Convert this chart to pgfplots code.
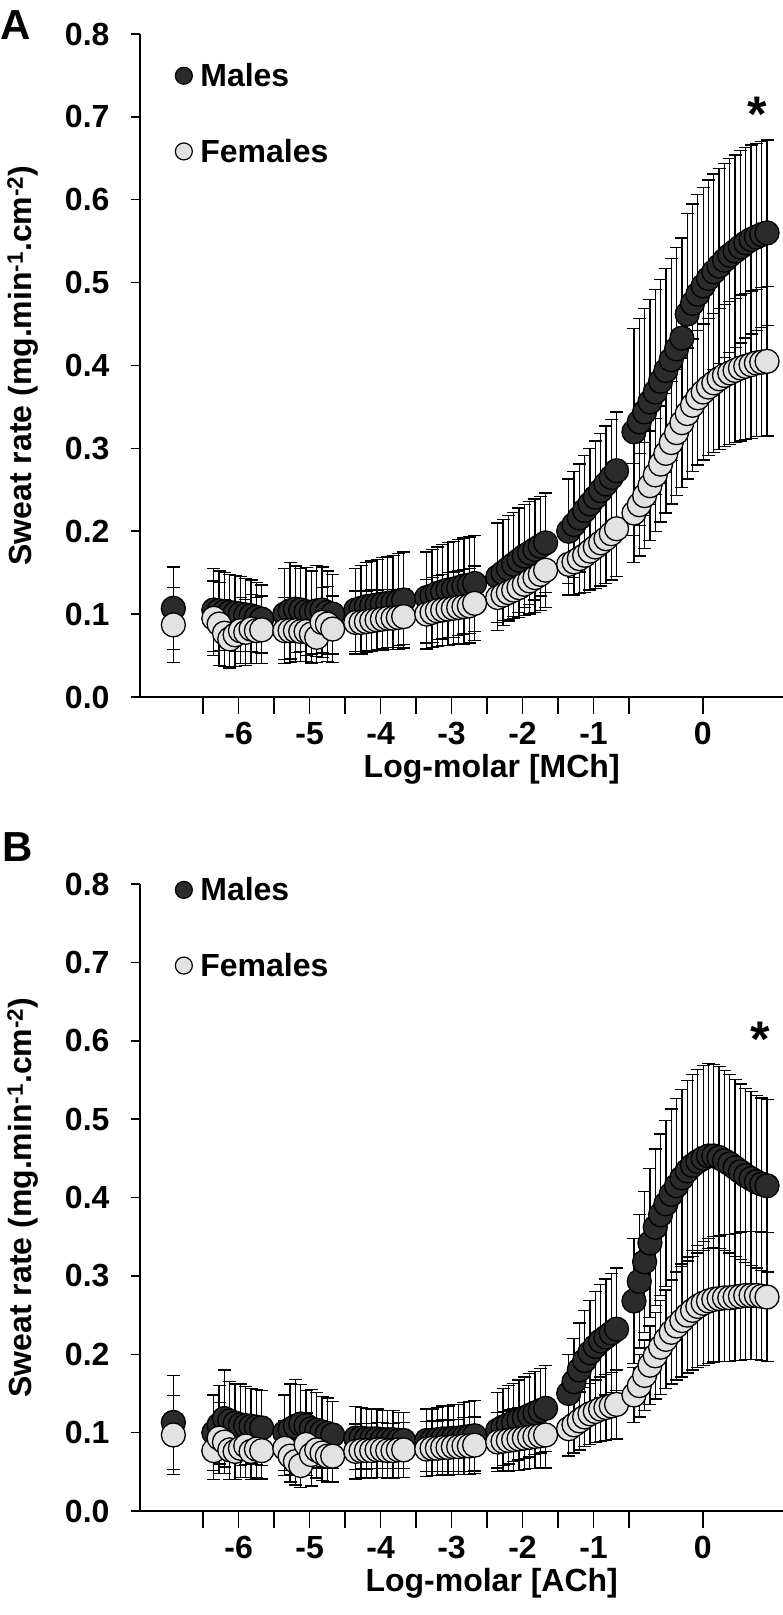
\documentclass[border=0pt]{standalone}
\usepackage{fontspec}
\setmainfont{Liberation Sans}
\usepackage{pgfplots}
\usepackage{pgfplotstable}
\pgfplotsset{compat=1.18}

\definecolor{maleC}{HTML}{2B2B2B}
\definecolor{femaleC}{HTML}{E2E2E2}
\newcommand\lbl{\bfseries\fontsize{32}{36}\selectfont}

% panel A: methacholine
\pgfplotstableread{
x      m     ms    f     fs
-6.92  0.107 0.050 0.087 0.045
-6.35  0.105 0.050 0.095 0.045
-6.275 0.104 0.048 0.088 0.050
-6.2   0.103 0.047 0.077 0.040
-6.125 0.102 0.046 0.070 0.035
-6.05  0.101 0.046 0.075 0.038
-5.975 0.100 0.045 0.080 0.040
-5.9   0.099 0.044 0.078 0.040
-5.825 0.098 0.043 0.082 0.042
-5.75  0.096 0.042 0.080 0.040
-5.675 0.094 0.041 0.081 0.041
-5.35  0.100 0.055 0.080 0.040
-5.275 0.104 0.058 0.080 0.038
-5.2   0.106 0.052 0.080 0.037
-5.125 0.105 0.050 0.079 0.036
-5.05  0.103 0.053 0.079 0.036
-4.975 0.102 0.050 0.076 0.035
-4.9   0.104 0.055 0.072 0.030
-4.825 0.105 0.052 0.090 0.042
-4.75  0.102 0.050 0.088 0.045
-4.675 0.100 0.048 0.082 0.040
-4.35  0.105 0.050 0.090 0.038
-4.275 0.107 0.052 0.090 0.038
-4.2   0.109 0.053 0.091 0.037
-4.125 0.110 0.054 0.092 0.037
-4.05  0.111 0.055 0.093 0.036
-3.975 0.112 0.056 0.094 0.036
-3.9   0.113 0.056 0.095 0.035
-3.825 0.114 0.057 0.095 0.035
-3.75  0.115 0.058 0.096 0.034
-3.675 0.117 0.058 0.097 0.034
-3.35  0.120 0.055 0.100 0.042
-3.275 0.122 0.056 0.102 0.042
-3.2   0.125 0.056 0.104 0.043
-3.125 0.127 0.057 0.105 0.043
-3.05  0.129 0.057 0.106 0.044
-2.975 0.130 0.058 0.107 0.044
-2.9   0.132 0.058 0.108 0.044
-2.825 0.134 0.058 0.109 0.045
-2.75  0.135 0.058 0.110 0.045
-2.675 0.137 0.058 0.113 0.045
-2.35  0.145 0.065 0.120 0.030
-2.275 0.150 0.064 0.123 0.031
-2.2   0.155 0.064 0.126 0.033
-2.125 0.160 0.063 0.129 0.034
-2.05  0.165 0.063 0.132 0.036
-1.975 0.170 0.062 0.136 0.038
-1.9   0.174 0.062 0.140 0.040
-1.825 0.178 0.061 0.144 0.042
-1.75  0.182 0.060 0.148 0.044
-1.675 0.186 0.060 0.153 0.045
-1.35  0.200 0.063 0.160 0.037
-1.275 0.208 0.064 0.163 0.040
-1.2   0.216 0.065 0.167 0.042
-1.125 0.225 0.066 0.171 0.045
-1.05  0.233 0.067 0.176 0.047
-0.975 0.241 0.068 0.181 0.050
-0.9   0.249 0.069 0.186 0.052
-0.825 0.257 0.070 0.191 0.054
-0.75  0.265 0.070 0.197 0.056
-0.675 0.273 0.071 0.203 0.058
-0.43  0.320 0.125 0.222 0.060
-0.355 0.332 0.125 0.232 0.062
-0.28  0.344 0.125 0.243 0.064
-0.205 0.356 0.124 0.255 0.066
-0.13  0.368 0.124 0.268 0.068
-0.055 0.381 0.123 0.281 0.070
0.02   0.394 0.123 0.294 0.072
0.095  0.407 0.122 0.307 0.074
0.17   0.420 0.122 0.319 0.076
0.245  0.433 0.121 0.331 0.078
0.32   0.462 0.121 0.342 0.079
0.395  0.475 0.120 0.352 0.080
0.47   0.486 0.120 0.361 0.081
0.545  0.496 0.119 0.368 0.082
0.62   0.505 0.119 0.374 0.083
0.695  0.513 0.118 0.379 0.084
0.77   0.520 0.118 0.384 0.085
0.845  0.527 0.117 0.388 0.086
0.92   0.533 0.117 0.391 0.086
0.995  0.538 0.116 0.394 0.087
1.07   0.543 0.116 0.397 0.088
1.145  0.548 0.115 0.399 0.088
1.22   0.552 0.114 0.401 0.089
1.295  0.555 0.113 0.403 0.089
1.37   0.558 0.112 0.404 0.090
1.445  0.560 0.112 0.405 0.090
}\dataA

% panel B: acetylcholine
\pgfplotstableread{
x      m     ms    f     fs
-6.92  0.113 0.060 0.097 0.050
-6.35  0.100 0.048 0.077 0.037
-6.275 0.110 0.050 0.093 0.045
-6.2   0.118 0.062 0.088 0.040
-6.125 0.115 0.050 0.078 0.038
-6.05  0.112 0.050 0.076 0.036
-5.975 0.110 0.052 0.080 0.037
-5.9   0.109 0.050 0.083 0.040
-5.825 0.108 0.048 0.076 0.036
-5.75  0.107 0.048 0.079 0.037
-5.675 0.106 0.048 0.077 0.036
-5.35  0.100 0.048 0.080 0.035
-5.275 0.104 0.058 0.070 0.033
-5.2   0.108 0.060 0.063 0.030
-5.125 0.111 0.050 0.058 0.028
-5.05  0.109 0.045 0.085 0.040
-4.975 0.105 0.050 0.072 0.040
-4.9   0.103 0.048 0.078 0.036
-4.825 0.101 0.045 0.074 0.035
-4.75  0.099 0.045 0.070 0.033
-4.675 0.097 0.043 0.070 0.033
-4.35  0.093 0.040 0.076 0.035
-4.275 0.093 0.039 0.077 0.035
-4.2   0.092 0.039 0.077 0.035
-4.125 0.092 0.038 0.077 0.035
-4.05  0.092 0.038 0.078 0.035
-3.975 0.091 0.037 0.078 0.035
-3.9   0.091 0.037 0.077 0.035
-3.825 0.091 0.037 0.077 0.035
-3.75  0.090 0.036 0.078 0.035
-3.675 0.090 0.036 0.078 0.035
-3.35  0.090 0.040 0.079 0.035
-3.275 0.090 0.040 0.080 0.035
-3.2   0.091 0.041 0.080 0.035
-3.125 0.092 0.042 0.081 0.035
-3.05  0.092 0.042 0.081 0.035
-2.975 0.093 0.043 0.082 0.035
-2.9   0.093 0.043 0.082 0.035
-2.825 0.094 0.044 0.083 0.036
-2.75  0.095 0.045 0.083 0.036
-2.675 0.096 0.045 0.084 0.036
-2.35  0.103 0.048 0.088 0.038
-2.275 0.107 0.049 0.089 0.038
-2.2   0.110 0.050 0.090 0.039
-2.125 0.113 0.050 0.091 0.039
-2.05  0.116 0.051 0.092 0.040
-1.975 0.119 0.052 0.093 0.040
-1.9   0.122 0.053 0.094 0.040
-1.825 0.125 0.053 0.095 0.041
-1.75  0.128 0.054 0.096 0.041
-1.675 0.131 0.055 0.097 0.042
-1.35  0.150 0.050 0.105 0.035
-1.275 0.165 0.055 0.110 0.036
-1.2   0.180 0.060 0.115 0.037
-1.125 0.192 0.064 0.120 0.038
-1.05  0.202 0.067 0.124 0.039
-0.975 0.210 0.070 0.127 0.040
-0.9   0.217 0.072 0.130 0.041
-0.825 0.222 0.074 0.132 0.042
-0.75  0.227 0.076 0.134 0.043
-0.675 0.232 0.078 0.136 0.044
-0.43  0.268 0.080 0.148 0.035
-0.355 0.293 0.085 0.160 0.040
-0.28  0.318 0.090 0.173 0.045
-0.205 0.342 0.095 0.186 0.050
-0.13  0.362 0.100 0.198 0.055
-0.055 0.378 0.103 0.209 0.060
0.02   0.392 0.106 0.219 0.063
0.095  0.404 0.109 0.228 0.066
0.17   0.415 0.111 0.236 0.069
0.245  0.425 0.113 0.243 0.072
0.32   0.434 0.115 0.250 0.074
0.395  0.441 0.116 0.256 0.076
0.47   0.446 0.117 0.261 0.078
0.545  0.450 0.118 0.265 0.079
0.62   0.453 0.118 0.268 0.080
0.695  0.453 0.117 0.270 0.080
0.77   0.451 0.116 0.271 0.080
0.845  0.447 0.115 0.272 0.081
0.92   0.443 0.114 0.272 0.081
0.995  0.438 0.113 0.273 0.081
1.07   0.433 0.112 0.274 0.082
1.145  0.428 0.111 0.275 0.082
1.22   0.424 0.111 0.275 0.082
1.295  0.420 0.110 0.275 0.082
1.37   0.417 0.110 0.274 0.082
1.445  0.415 0.110 0.273 0.082
}\dataB

\pgfplotsset{
  sweat/.style={
    scale only axis, width=643pt,
    xmin=-7.39, xmax=1.67, ymin=0, ymax=0.8,
    clip=false,
    axis x line*=bottom, axis y line*=left,
    axis line style={line width=1.5pt},
    tick align=outside,
    major tick length=9pt,
    every tick/.style={black, line width=1.5pt},
    xtick={-6.5,-5.5,-4.5,-3.5,-2.5,-1.5,-0.5},
    xticklabels={},
    xtick style={/pgfplots/major tick length=17pt},
    extra x ticks={-6,-5,-4,-3,-2,-1,0.54},
    extra x tick labels={-6,-5,-4,-3,-2,-1,0},
    extra x tick style={/pgfplots/major tick length=0pt},
    xticklabel style={yshift=-22pt},
    ytick={0,0.1,0.2,0.3,0.4,0.5,0.6,0.7,0.8},
    yticklabel style={xshift=-18pt, /pgf/number format/.cd, fixed, fixed zerofill, precision=1},
    ticklabel style={font=\lbl},
    /pgf/number format/assume math mode=true,
    xlabel style={font=\lbl, at={(axis description cs:0.547,0)}, anchor=center, yshift=-72pt},
    legend style={draw=none, fill=none, font=\lbl, legend cell align=left,
      row sep=47pt, column sep=6pt, anchor=north west},
  },
  errs/.style={black, only marks, mark=none, forget plot,
    error bars/.cd, y dir=both, y explicit,
    error mark=-,
    error bar style={line width=1.3pt},
    error mark options={rotate=90, line width=1.3pt, mark size=6.5pt}},
  male/.style={only marks, mark=*, mark size=12pt, forget plot,
    mark options={fill=maleC, draw=black, line width=1.3pt}},
  female/.style={only marks, mark=*, mark size=12pt, forget plot,
    mark options={fill=femaleC, draw=black, line width=1.3pt}},
  keym/.style={only marks, mark=*, mark size=8.5pt,
    mark options={fill=maleC, draw=black, line width=1.2pt}},
  keyf/.style={only marks, mark=*, mark size=8.5pt,
    mark options={fill=femaleC, draw=black, line width=1.2pt}},
}

\begin{document}
\begin{tikzpicture}
\path[use as bounding box] (0,0) rectangle (783pt,1615pt);

\begin{axis}[sweat, height=663pt, at={(140pt,918pt)}, anchor=south west,
    xlabel={Log-molar [MCh]},
    legend style={at={(axis description cs:0.05,0.962)}}]
\addlegendimage{keym}\addlegendentry{Males}
\addlegendimage{keyf}\addlegendentry{Females}
\addplot[errs] table[x=x, y=m, y error=ms] {\dataA};
\addplot[errs] table[x=x, y=f, y error=fs] {\dataA};
\addplot[male] table[x=x, y=m] {\dataA};
\addplot[female] table[x=x, y=f] {\dataA};
\node[rotate=90, font=\lbl] at (axis description cs:-0.182,0.5)
  {Sweat rate (mg.min\textsuperscript{-1}.cm\textsuperscript{-2})};
\node[font=\bfseries\fontsize{50}{50}\selectfont, anchor=base] at (axis cs:1.30,0.682) {*};
\end{axis}

\begin{axis}[sweat, height=627pt, at={(140pt,104pt)}, anchor=south west,
    xlabel={Log-molar [ACh]},
    legend style={at={(axis description cs:0.05,1.017)}}]
\addlegendimage{keym}\addlegendentry{Males}
\addlegendimage{keyf}\addlegendentry{Females}
\addplot[errs] table[x=x, y=m, y error=ms] {\dataB};
\addplot[errs] table[x=x, y=f, y error=fs] {\dataB};
\addplot[male] table[x=x, y=m] {\dataB};
\addplot[female] table[x=x, y=f] {\dataB};
\node[rotate=90, font=\lbl] at (axis description cs:-0.182,0.5)
  {Sweat rate (mg.min\textsuperscript{-1}.cm\textsuperscript{-2})};
\node[font=\bfseries\fontsize{50}{50}\selectfont, anchor=base] at (axis cs:1.345,0.58) {*};
\end{axis}

\node[font=\bfseries\fontsize{42}{42}\selectfont] at (16pt,1590pt) {A};
\node[font=\bfseries\fontsize{42}{42}\selectfont] at (18pt,768pt) {B};
\end{tikzpicture}
\end{document}
